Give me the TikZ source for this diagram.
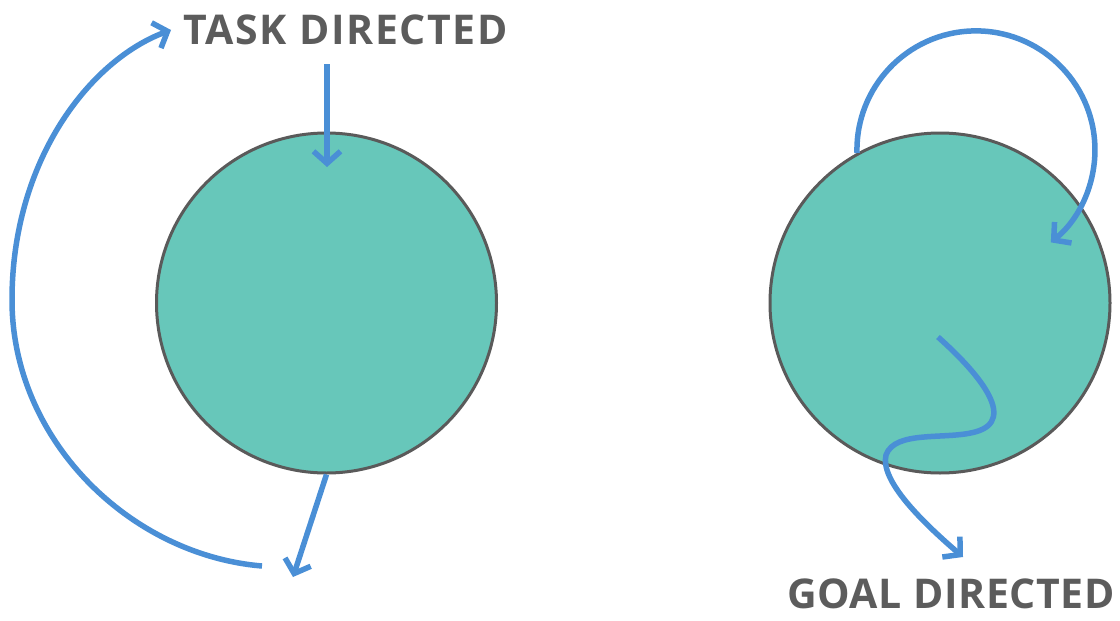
\documentclass[tikz,border=0pt]{standalone}
\usepackage{fontspec}
\usetikzlibrary{arrows.meta}
\newfontfamily\labfont{Open Sans}[LetterSpace=4]
\newfontfamily\labfontb{Open Sans}[LetterSpace=1.5]
\definecolor{teal1}{HTML}{67C7BA}
\definecolor{rim}{HTML}{5A5A5A}
\definecolor{arr}{HTML}{4A8FD6}
\definecolor{txt}{HTML}{5C5C5C}
\begin{document}
\begin{tikzpicture}[x=1pt,y=-1pt,
  blob/.style={circle, draw=rim, line width=3pt, fill=teal1, minimum size=340pt, inner sep=0pt},
  flow/.style={draw=arr, line width=5.5pt, -{Straight Barb[length=12pt,width=27pt]}},
  lab/.style={text=txt, anchor=base west, inner sep=0pt}]
\useasboundingbox[fill=white] (0,0) rectangle (1120,621);
\node[blob] (L) at (326.5,303) {};
\node[blob] (R) at (940,303) {};
\node[lab, font=\labfont\bfseries\fontsize{41}{41}\selectfont] (task) at (183,44) {TASK DIRECTED};
\node[lab, font=\labfontb\bfseries\fontsize{41}{41}\selectfont] (goal) at (787,608) {GOAL DIRECTED};
% left: into the circle
\coordinate (inA) at (327,64);
\coordinate (inB) at (327,167);
\draw[flow] (inA) -- (inB);
% left: out of the circle
\coordinate (outB) at (293,577);
\draw[flow] (L.south) -- (outB);
% left: big return arc
\coordinate (arcA) at (262,566);
\coordinate (arcM) at (12,300);
\coordinate (arcB) at (171,30);
\draw[flow] (arcA) .. controls (130,555) and (12,440) .. (arcM)
  .. controls (12,160) and (90,60) .. (arcB);
% right: loop
\coordinate (loopA) at (857,153);
\draw[flow] (loopA) arc[start angle=178.5, end angle=411, radius=119];
% right: wavy path
\coordinate (waveA) at (938,337);
\coordinate (waveM1) at (975,432);
\coordinate (waveM2) at (886,455);
\coordinate (waveB) at (963,557);
\draw[flow] (waveA) .. controls (975,370) and (1020,420) .. (waveM1)
  .. controls (945,440) and (895,430) .. (waveM2)
  .. controls (880,480) and (920,520) .. (waveB);
\end{tikzpicture}
\end{document}
